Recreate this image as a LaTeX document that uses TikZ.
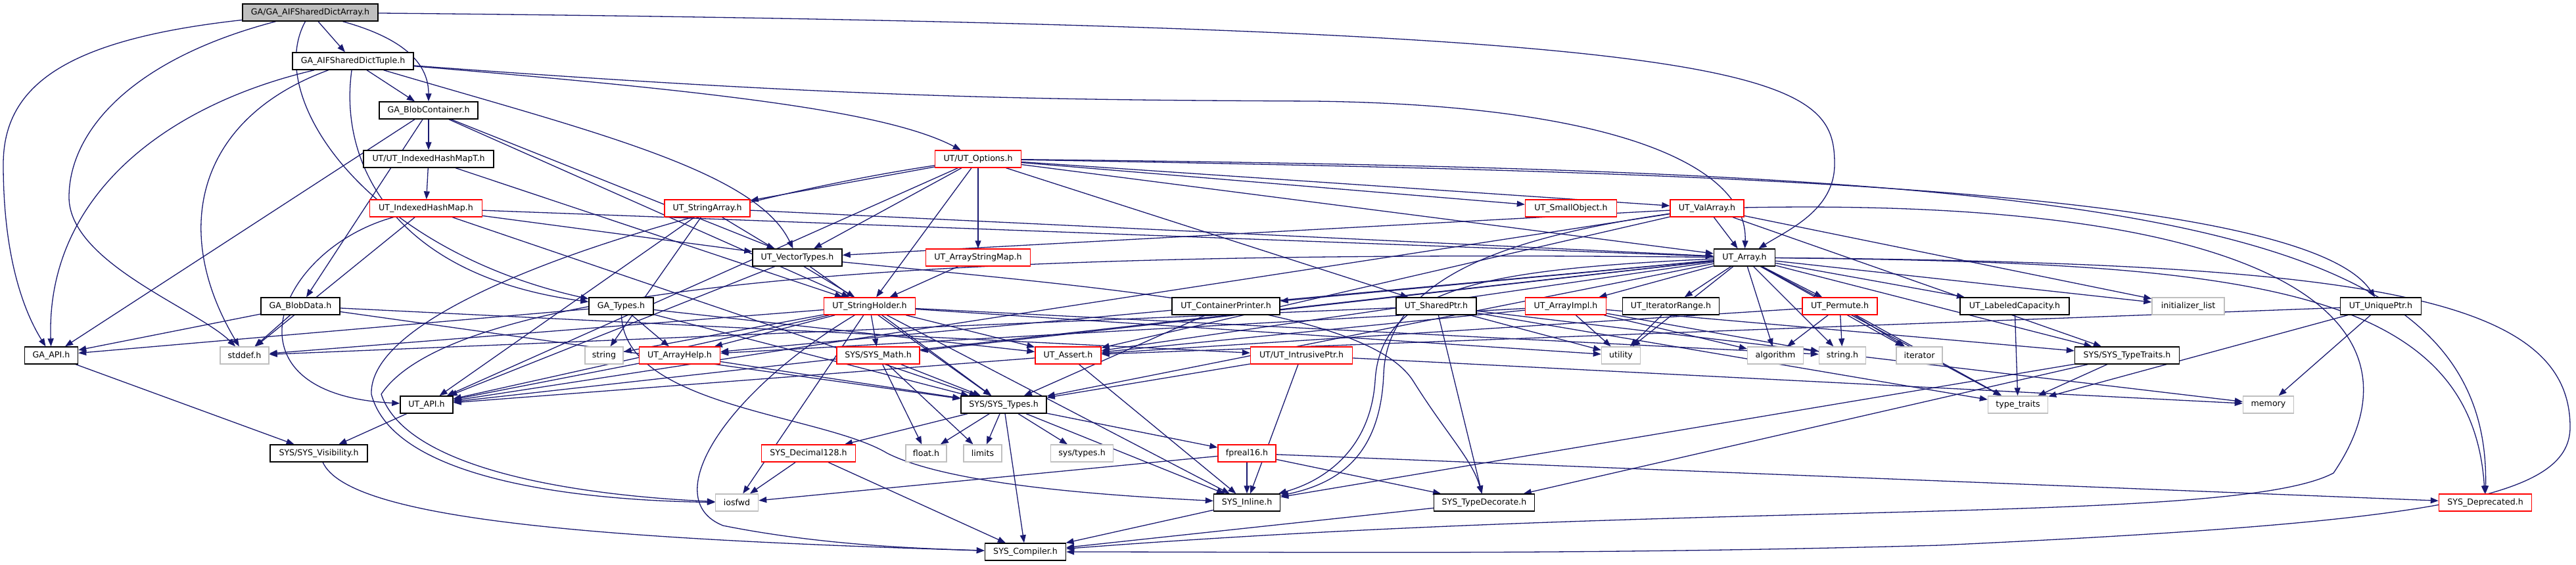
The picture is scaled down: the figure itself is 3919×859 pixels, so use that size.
\documentclass[tikz,border=0pt]{standalone}
\usepackage{fontspec}
\setmainfont{DejaVu Sans}
\usetikzlibrary{arrows.meta}
\definecolor{eb}{RGB}{25,25,112}
\definecolor{gb}{RGB}{191,191,191}
\pgfdeclarelayer{bg}
\pgfsetlayers{bg,main}
\newcommand\nd[6]{\node[#5,minimum width=#4*0.5pt] (#1) at (#2,#3) {#6};}
\begin{document}
\begin{tikzpicture}[x=0.5pt,y=-0.5pt,font=\fontsize{6.3}{7.5}\selectfont,
  box/.style={draw=black,fill=white,line width=0.7pt,inner sep=0pt,minimum height=13pt},
  redbox/.style={box,draw=red},
  graybox/.style={box,draw=gb},
  rootbox/.style={box,fill=gb},
  edge/.style={draw=eb,line width=0.65pt,-{Triangle[length=6pt,width=4.5pt]}}]
\useasboundingbox (0,0) rectangle (3919,859);
% nodes
\nd{A}{472}{19}{206}{rootbox}{GA/GA\_AIFSharedDictArray.h}
\nd{B}{537}{93}{184}{box}{GA\_AIFSharedDictTuple.h}
\nd{C}{652}{168}{150}{box}{GA\_BlobContainer.h}
\nd{IHMT}{652}{242}{198}{box}{UT/UT\_IndexedHashMapT.h}
\nd{Opt}{1488}{242}{131}{redbox}{UT/UT\_Options.h}
\nd{IHM}{648}{317}{171}{redbox}{UT\_IndexedHashMap.h}
\nd{StrArr}{1076}{317}{130}{redbox}{UT\_StringArray.h}
\nd{SmallObj}{2390}{317}{139}{redbox}{UT\_SmallObject.h}
\nd{ValArr}{2597}{317}{112}{redbox}{UT\_ValArray.h}
\nd{VecT}{1213}{392}{136}{box}{UT\_VectorTypes.h}
\nd{ASM}{1488}{392}{159}{redbox}{UT\_ArrayStringMap.h}
\nd{Arr}{2654}{392}{93}{box}{UT\_Array.h}
\nd{BlobData}{457}{466}{120}{box}{GA\_BlobData.h}
\nd{GATypes}{945}{466}{98}{box}{GA\_Types.h}
\nd{StrH}{1323}{466}{139}{redbox}{UT\_StringHolder.h}
\nd{CP}{1865}{466}{164}{box}{UT\_ContainerPrinter.h}
\nd{SP}{2185}{466}{122}{box}{UT\_SharedPtr.h}
\nd{AI}{2382}{466}{123}{redbox}{UT\_ArrayImpl.h}
\nd{IR}{2542}{466}{147}{box}{UT\_IteratorRange.h}
\nd{Perm}{2799}{466}{114}{redbox}{UT\_Permute.h}
\nd{LC}{3065}{466}{166}{box}{UT\_LabeledCapacity.h}
\nd{IL}{3329}{466}{110}{graybox}{initializer\_list}
\nd{UP}{3622}{466}{123}{box}{UT\_UniquePtr.h}
\nd{GAAPI}{78}{541}{81}{box}{GA\_API.h}
\nd{stddef}{372}{541}{74}{graybox}{stddef.h}
\nd{string}{919}{541}{58}{graybox}{string}
\nd{AH}{1034}{541}{123}{redbox}{UT\_ArrayHelp.h}
\nd{Math}{1336}{541}{126}{redbox}{SYS/SYS\_Math.h}
\nd{Assert}{1625}{541}{100}{redbox}{UT\_Assert.h}
\nd{IP}{1980}{541}{155}{redbox}{UT/UT\_IntrusivePtr.h}
\nd{utility}{2466}{541}{59}{graybox}{utility}
\nd{algorithm}{2701}{541}{85}{graybox}{algorithm}
\nd{stringh}{2803}{541}{71}{graybox}{string.h}
\nd{iterator}{2920}{541}{70}{graybox}{iterator}
\nd{TT}{3236}{541}{159}{box}{SYS/SYS\_TypeTraits.h}
\nd{UTAPI}{649}{616}{80}{box}{UT\_API.h}
\nd{Types}{1527}{616}{130}{box}{SYS/SYS\_Types.h}
\nd{typetraits}{3070}{616}{91}{graybox}{type\_traits}
\nd{memory}{3451}{616}{77}{graybox}{memory}
\nd{Vis}{485}{690}{148}{box}{SYS/SYS\_Visibility.h}
\nd{Dec}{1230}{690}{143}{redbox}{SYS\_Decimal128.h}
\nd{float}{1409}{690}{62}{graybox}{float.h}
\nd{limits}{1495}{690}{58}{graybox}{limits}
\nd{systypes}{1646}{690}{95}{graybox}{sys/types.h}
\nd{fp}{1897}{690}{88}{redbox}{fpreal16.h}
\nd{iosfwd}{1121}{765}{65}{graybox}{iosfwd}
\nd{Inline}{1897}{765}{101}{box}{SYS\_Inline.h}
\nd{TD}{2258}{765}{153}{box}{SYS\_TypeDecorate.h}
\nd{Depr}{3781}{765}{141}{redbox}{SYS\_Deprecated.h}
\nd{Comp}{1560}{840}{123}{box}{SYS\_Compiler.h}
\begin{pgfonlayer}{bg}
% curved edges
\draw[edge] (A) .. controls (2700,40) and (2791,110) .. (2791,250) .. controls (2791,320) and (2720,350) .. (Arr);
\draw[edge] (B) .. controls (1300,150) and (1600,152) .. (2000,154) .. controls (2450,160) and (2660,250) .. (Arr);
\draw[edge] (B) .. controls (1100,140) and (1350,170) .. (Opt);
\draw[edge] (A) .. controls (620,60) and (652,100) .. (C);
\draw[edge] (A) .. controls (100,60) and (5,130) .. (5,250) .. controls (5,400) and (40,480) .. (GAAPI);
\draw[edge] (A) .. controls (200,90) and (105,200) .. (105,300) .. controls (105,400) and (300,470) .. (stddef);
\draw[edge] (A) .. controls (400,150) and (560,380) .. (GATypes);
\draw[edge] (B) .. controls (250,160) and (70,300) .. (GAAPI);
\draw[edge] (B) .. controls (300,180) and (258,350) .. (stddef);
\draw[edge] (B) .. controls (515,250) and (600,420) .. (GATypes);
\draw[edge] (B) .. controls (900,200) and (1150,260) .. (VecT);
\draw[edge] (IHM) .. controls (420,380) and (330,600) .. (UTAPI);
\draw[edge] (Opt) .. controls (2500,260) and (3500,280) .. (UP);
\draw[edge] (Opt) .. controls (3200,260) and (3790,320) .. (Depr);
\draw[edge] (Arr) .. controls (3400,400) and (3760,430) .. (Depr);
\draw[edge] (Arr) .. controls (3600,400) and (3910,450) .. (3910,650) .. controls (3910,760) and (3700,795) .. (2950,830) .. controls (2400,845) and (2000,840) .. (Comp);
\draw[edge] (ValArr) .. controls (3500,300) and (3700,500) .. (3550,720) .. controls (3400,800) and (2600,760) .. (Comp);
\draw[edge] (Arr) .. controls (1500,380) and (700,420) .. (580,600) .. controls (620,720) and (900,755) .. (iosfwd);
\draw[edge] (Opt) .. controls (1100,300) and (560,450) .. (565,600) .. controls (600,735) and (900,762) .. (iosfwd);
\draw[edge] (StrH) .. controls (1100,600) and (1000,760) .. (1100,800) .. controls (1250,830) and (1400,835) .. (Comp);
\draw[edge] (Vis) .. controls (530,790) and (900,820) .. (Comp);
\draw[edge] (GATypes) .. controls (950,620) and (1250,630) .. (1350,690) .. controls (1450,740) and (1700,755) .. (Inline);
\draw[edge] (Arr) .. controls (2250,410) and (2100,440) .. (2092,580) .. controls (2085,680) and (2020,730) .. (Inline);
\draw[edge] (ValArr) .. controls (2300,360) and (2110,420) .. (2105,570) .. controls (2100,690) and (2040,735) .. (Inline);
\draw[edge] (VecT) .. controls (1700,440) and (2080,470) .. (2150,580) .. controls (2200,660) and (2240,700) .. (TD);
% straight edges
\foreach \s/\t in {A/B, B/C,
  C/GAAPI, C/BlobData, C/IHMT, C/StrH, C/VecT,
  IHMT/IHM, IHMT/StrH,
  IHM/Arr, IHM/VecT, IHM/Types, IHM/stddef,
  Opt/UTAPI, Opt/StrArr, Opt/VecT, Opt/ASM, Opt/StrH, Opt/SP, Opt/SmallObj, Opt/ValArr, Opt/Arr,
  StrArr/UTAPI, StrArr/string, StrArr/StrH, StrArr/Arr,
  ValArr/Arr, ValArr/UTAPI, ValArr/VecT, ValArr/Assert, ValArr/IL, ValArr/TT,
  VecT/UTAPI, VecT/Types,
  ASM/StrH,
  Arr/UTAPI, Arr/AH, Arr/Assert, Arr/Math, Arr/Types, Arr/CP, Arr/AI, Arr/IR, Arr/utility,
  Arr/algorithm, Arr/Perm, Arr/stringh, Arr/iterator, Arr/LC, Arr/IL, Arr/TT, Arr/typetraits,
  GATypes/GAAPI, GATypes/AH, GATypes/Assert, GATypes/Types,
  BlobData/GAAPI, BlobData/stddef, BlobData/IP, BlobData/Types,
  StrH/UTAPI, StrH/AH, StrH/string, StrH/stddef, StrH/Math, StrH/Assert, StrH/Types,
  StrH/iosfwd, StrH/Inline, StrH/stringh, StrH/utility,
  CP/Types,
  SP/stddef, SP/utility, SP/memory, SP/typetraits, SP/TD,
  AI/Assert, AI/AH, AI/utility, AI/algorithm, AI/stringh, AI/TT,
  IR/utility,
  Perm/Assert, Perm/algorithm, Perm/stringh, Perm/iterator, Perm/typetraits,
  LC/typetraits,
  UP/Assert, UP/typetraits, UP/memory,
  TT/typetraits, TT/TD, TT/Inline,
  IP/Inline, IP/Types, IP/memory,
  AH/UTAPI, AH/Types,
  Math/Types, Math/float, Math/limits,
  Assert/UTAPI, Assert/Inline,
  Types/Dec, Types/float, Types/limits, Types/systypes, Types/Inline, Types/fp, Types/Comp,
  Dec/iosfwd, Dec/Comp,
  fp/iosfwd, fp/Inline, fp/TD, fp/Depr,
  Inline/Comp, TD/Comp,
  GAAPI/Vis, UTAPI/Vis}
  \draw[edge] (\s) -- (\t);
\end{pgfonlayer}
\end{tikzpicture}
\end{document}
